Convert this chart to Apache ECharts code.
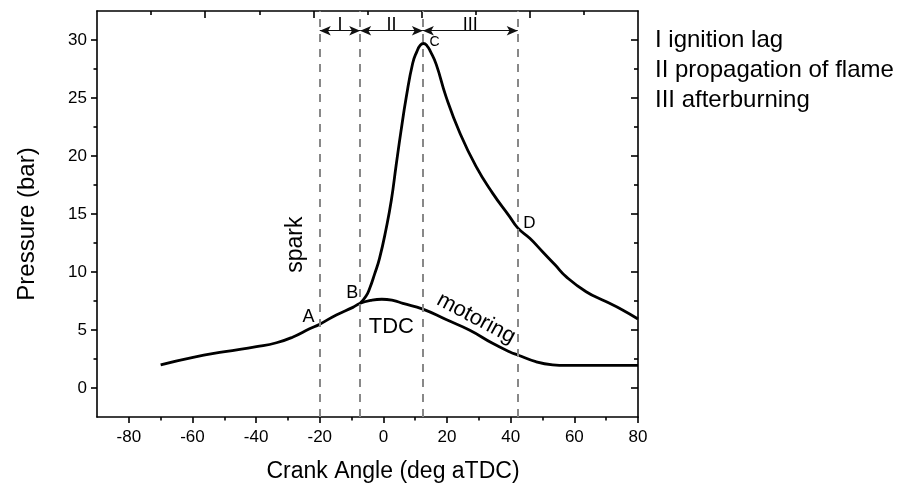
<!DOCTYPE html>
<html>
<head>
<meta charset="utf-8">
<script src="https://cdn.jsdelivr.net/npm/echarts@6/dist/echarts.min.js"></script>
<style>
  html, body { margin: 0; padding: 0; background: #fff; }
  #main { width: 910px; height: 484px; }
</style>
</head>
<body>
<div id="main"></div>
<script>
// motoring trace (no combustion)
var motoringAngle = [-70, -59.8, -49.8, -39.9, -33.6, -28.4, -23.2, -20, -14.8, -9.6, -7.3, -4, -0.5, 3, 6.1, 12.4, 19.7, 27, 34.3, 39.6, 42.2, 47.9, 53.2, 57.4, 65, 80];
var motoringPressure = [2.0, 2.65, 3.13, 3.56, 3.9, 4.4, 5.1, 5.5, 6.3, 6.95, 7.3, 7.55, 7.65, 7.55, 7.3, 6.8, 5.9, 5.0, 3.85, 3.13, 2.85, 2.27, 2.0, 1.95, 1.95, 1.95];

// fired trace, from point B on (before B it is the motoring trace)
var firedAngle = [-7.3, -5.5, -4.3, -2.8, -1.2, 0.9, 2.5, 4, 5.5, 7.2, 9.2, 10.5, 11.6, 12.6, 13.7, 14.8, 16.6, 19.7, 24, 29.1, 34.3, 39.6, 42.2, 46, 50, 54, 57.4, 63.7, 69.9, 75, 80];
var firedPressure = [7.3, 7.9, 8.6, 9.8, 11.2, 13.8, 16.2, 19.2, 22.1, 25.1, 28.0, 29.0, 29.55, 29.7, 29.5, 29.0, 27.9, 25.1, 22.0, 19.1, 16.8, 14.8, 13.8, 12.9, 11.75, 10.6, 9.6, 8.3, 7.45, 6.75, 5.95];

// crank angles of spark (A), B, peak C and D
var eventAngle = [-20, -7.3, 12.4, 42.2];
var phaseNames = ['I', 'II', 'III'];
var phaseNotes = ['I ignition lag', 'II propagation of flame', 'III afterburning'];
var phaseArrowP = 30.8;

var xTicks = [-80, -60, -40, -20, 0, 20, 40, 60, 80];
var xMinorTicks = [-70, -50, -30, -10, 10, 30, 50, 70];
var yTicks = [0, 5, 10, 15, 20, 25, 30];
var yMinorTicks = [2.5, 7.5, 12.5, 17.5, 22.5, 27.5];

// annotation texts and their anchor (angle, pressure)
var noteText = ['A', 'B', 'C', 'D', 'TDC', 'spark', 'motoring'];
var noteAngle = [-23.5, -9.8, 16.05, 45.9, 2.5, -27.7, 29.1];
var notePressure = [6.15, 8.16, 29.85, 14.2, 5.3, 12.35, 6.0];

var font = 'Liberation Sans, Arial, sans-serif';
var chart = echarts.init(document.getElementById('main'));

function toPairs(a, b) {
    var out = [];
    for (var i = 0; i < a.length; i++) out.push([a[i], b[i]]);
    return out;
}

var noteSize = { 'A': 18, 'B': 18, 'C': 14, 'D': 17, 'TDC': 22, 'spark': 23, 'motoring': 22 };
var noteRotate = { 'spark': 90, 'motoring': -28 };
var notes = [];
for (var i = 0; i < noteText.length; i++) {
    notes.push({
        name: noteText[i],
        value: [noteAngle[i], notePressure[i]],
        label: { fontSize: noteSize[noteText[i]], rotate: noteRotate[noteText[i]] || 0 }
    });
}
for (var i = 0; i < phaseNames.length; i++) {
    notes.push({
        name: phaseNames[i],
        value: [(eventAngle[i + 1] + eventAngle[i]) / 2, phaseArrowP + 0.5],
        label: { fontSize: 18 }
    });
}

var arrows = [];
for (var i = 0; i < phaseNames.length; i++) {
    arrows.push([{ coord: [eventAngle[i], phaseArrowP] }, { coord: [eventAngle[i + 1], phaseArrowP] }]);
}

var black = { color: '#000', width: 1.6 };

function axis(pos, min, max, ticks, len, inside, line, labels) {
    return {
        type: 'value', position: pos, min: min, max: max,
        axisLine: { show: line, onZero: false, lineStyle: black },
        axisTick: { customValues: ticks, inside: inside, length: len, lineStyle: black },
        axisLabel: labels ? { customValues: ticks, fontSize: 17, color: '#000', margin: pos == 'bottom' ? 12 : 10, fontFamily: font } : { show: false },
        splitLine: { show: false }
    };
}

option = {
    animation: false,
    backgroundColor: '#fff',
    grid: { left: 97, right: 272, top: 11, bottom: 67 },
    xAxis: [
        axis('bottom', -90, 80, xTicks, 6, false, true, true),
        axis('bottom', -90, 80, xMinorTicks, 3.5, false, false, false),
        axis('top', 0, 10, [2, 4, 6, 8], 7, true, true, false),
        axis('top', 0, 10, [1, 3, 5, 7, 9], 4, true, false, false)
    ],
    yAxis: [
        axis('left', -2.5, 32.5, yTicks, 6, false, true, true),
        axis('left', -2.5, 32.5, yMinorTicks, 3.5, false, false, false),
        axis('right', -2.5, 32.5, yTicks, 7, true, true, false),
        axis('right', -2.5, 32.5, yMinorTicks, 4, true, false, false)
    ],
    series: [{
        name: 'event lines',
        type: 'line',
        data: [],
        markLine: {
            silent: true,
            symbol: 'none',
            label: { show: false },
            lineStyle: { color: '#888', width: 2, type: [8, 7] },
            data: eventAngle.map(function (a) { return { xAxis: a }; })
        }
    }, {
        name: 'phases',
        type: 'line',
        data: [],
        markLine: {
            silent: true,
            symbol: ['arrow', 'arrow'],
            symbolSize: [7, 11],
            label: { show: false },
            lineStyle: { color: '#111', width: 1, type: 'solid' },
            data: arrows
        }
    }, {
        name: 'motoring',
        type: 'line',
        data: toPairs(motoringAngle, motoringPressure),
        smooth: 0.5,
        showSymbol: false,
        lineStyle: { color: '#000', width: 2.8 }
    }, {
        name: 'fired',
        type: 'line',
        data: toPairs(firedAngle, firedPressure),
        smooth: 0.5,
        showSymbol: false,
        lineStyle: { color: '#000', width: 2.8 }
    }, {
        name: 'notes',
        type: 'scatter',
        symbolSize: 0,
        silent: true,
        z: 5,
        data: notes,
        itemStyle: { color: '#000' },
        label: {
            show: true,
            formatter: '{b}',
            position: [0, 0],
            align: 'center',
            verticalAlign: 'middle',
            color: '#000',
            textBorderWidth: 0,
            opacity: 1,
            fontFamily: font
        }
    }],
    graphic: [{
        type: 'text', left: 655, top: 25,
        style: { text: phaseNotes.join('\n'), fontSize: 24, lineHeight: 30, fontFamily: font, fill: '#000' }
    }, {
        type: 'text', x: 393, y: 472,
        style: { text: 'Crank Angle (deg aTDC)', fontSize: 23, fontFamily: font, fill: '#000', align: 'center', verticalAlign: 'middle' }
    }, {
        type: 'text', x: 27, y: 224, rotation: Math.PI / 2,
        style: { text: 'Pressure (bar)', fontSize: 24, fontFamily: font, fill: '#000', align: 'center', verticalAlign: 'middle' }
    }]
};
chart.setOption(option);
</script>
</body>
</html>
